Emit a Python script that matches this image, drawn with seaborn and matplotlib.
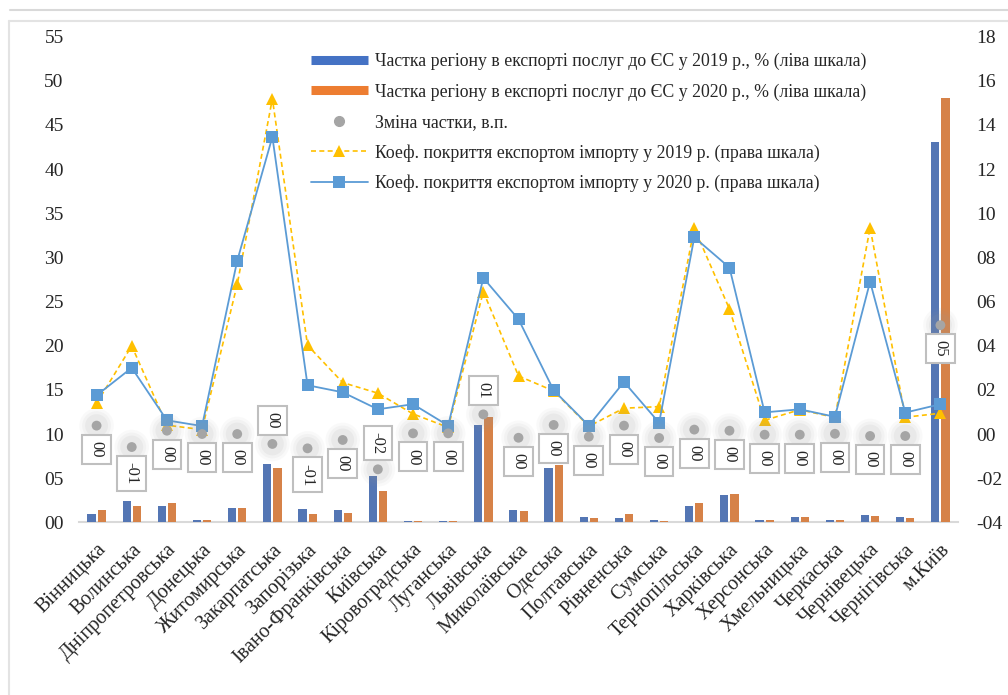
import numpy as np
import pandas as pd
import seaborn as sns
import matplotlib.pyplot as plt
from matplotlib.lines import Line2D

regions = ["Вінницька", "Волинська", "Дніпропетровська", "Донецька", "Житомирська",
           "Закарпатська", "Запорізька", "Івано-Франківська", "Київська", "Кіровоградська",
           "Луганська", "Львівська", "Миколаївська", "Одеська", "Полтавська",
           "Рівненська", "Сумська", "Тернопільська", "Харківська", "Херсонська",
           "Хмельницька", "Черкаська", "Чернівецька", "Чернігівська", "м.Київ"]

share_2019 = [0.9, 2.4, 1.9, 0.3, 1.6, 6.6, 1.5, 1.4, 5.2, 0.2, 0.2, 11.0, 1.4,
              6.2, 0.6, 0.45, 0.3, 1.9, 3.1, 0.3, 0.55, 0.3, 0.8, 0.55, 43.1]
share_2020 = [1.35, 1.85, 2.2, 0.3, 1.6, 6.2, 0.95, 1.05, 3.6, 0.2, 0.2, 11.9, 1.25,
              6.5, 0.5, 0.95, 0.2, 2.2, 3.2, 0.3, 0.55, 0.3, 0.7, 0.45, 48.1]
share_change = [0.38, -0.59, 0.15, 0.0, 0.0, -0.45, -0.65, -0.27, -1.6, 0.03, 0.03, 0.89, -0.17,
                0.41, -0.12, 0.38, -0.18, 0.2, 0.15, -0.03, -0.03, 0.01, -0.09, -0.09, 4.93]
coverage_2019 = [1.39, 3.99, 0.4, 0.2, 6.78, 15.19, 4.02, 2.33, 1.85, 0.91, 0.3, 6.45, 2.63,
                 1.95, 0.35, 1.17, 1.24, 9.33, 5.66, 0.62, 1.1, 0.75, 9.35, 0.76, 0.94]
coverage_2020 = [1.75, 3.0, 0.62, 0.36, 7.85, 13.46, 2.21, 1.89, 1.12, 1.35, 0.38, 7.07, 5.2,
                 1.98, 0.38, 2.36, 0.51, 8.91, 7.54, 0.98, 1.12, 0.78, 6.9, 0.97, 1.35]
label_above = ["Закарпатська", "Київська", "Львівська"]

legend_labels = ["Частка регіону в експорті послуг до ЄС у 2019 р., % (ліва шкала)",
                 "Частка регіону в експорті послуг до ЄС у 2020 р., % (ліва шкала)",
                 "Зміна частки, в.п.",
                 "Коеф. покриття експортом імпорту у 2019 р. (права шкала)",
                 "Коеф. покриття експортом імпорту у 2020 р. (права шкала)"]

c19, c20, cdot, ctri, csq = "#4472C4", "#ED7D31", "#A5A5A5", "#FFC000", "#5B9BD5"

sns.set_style("white")
plt.rcParams['font.family'] = ['Liberation Serif', 'DejaVu Serif']

bars = pd.DataFrame({
    "region": regions * 2,
    "year": ["2019"] * len(regions) + ["2020"] * len(regions),
    "share": share_2019 + share_2020,
})

fig = plt.figure(figsize=[10.08, 6.95], dpi=100)
ax = fig.add_axes([79 / 1008, 1 - 522.3 / 695, 879 / 1008, 485.6 / 695])
sns.barplot(data=bars, x="region", y="share", hue="year", order=regions,
            palette=[c19, c20], width=0.58, gap=0.2, linewidth=0, legend=False, ax=ax)
ax.set_xlim(-0.5, len(regions) - 0.5)
ax.set_ylim(0, 55)
ax.set_yticks(range(0, 56, 5))
ax.set_yticklabels(["{:02d}".format(v) for v in range(0, 56, 5)], fontsize=14)
ax.set_xlabel("")
ax.set_ylabel("")
ax.set_xticks(range(len(regions)))
ax.set_xticklabels(regions, rotation=45, ha="right", rotation_mode="anchor", fontsize=14.5)
ax.tick_params(axis="x", length=0, pad=13)
ax.tick_params(axis="y", length=0, pad=11)
for s in ["top", "left", "right"]:
    ax.spines[s].set_visible(False)
ax.spines["bottom"].set_color("#D9D9D9")
ax.spines["bottom"].set_linewidth(1.5)
ax.spines["bottom"].set_zorder(0.5)

ax2 = ax.twinx()
ax2.set_ylim(-4, 18)
rticks = list(range(-4, 19, 2))
ax2.set_yticks(rticks)
ax2.set_yticklabels([("-" if v < 0 else "") + "{:02d}".format(abs(v)) for v in rticks], fontsize=14)
ax2.tick_params(axis="y", length=0, pad=13)
for s in ["top", "left", "right", "bottom"]:
    ax2.spines[s].set_visible(False)

pos = np.arange(len(regions))
ax2.plot(pos, coverage_2019, color=ctri, ls=(0, (3, 2)), lw=1.2, marker="^", ms=8.5,
         markeredgewidth=0, zorder=3)
ax2.plot(pos, coverage_2020, color=csq, lw=1.3, marker="s", ms=8,
         markeredgewidth=0, zorder=4)

# grey glow round the change dots
for size, alpha in [(620, 0.05), (430, 0.07), (270, 0.1)]:
    ax2.scatter(pos, share_change, s=size, color="#9A9A9A", alpha=alpha, edgecolors="none", zorder=5)
ax2.scatter(pos, share_change, s=50, color=cdot, edgecolors="none", zorder=6)

for i, v in enumerate(share_change):
    r = int(round(v))
    txt = ("-" if r < 0 else "") + "{:02d}".format(abs(r))
    above = regions[i] in label_above
    ax2.annotate(txt, (i, v), xytext=(0, 11 if above else -11), textcoords="offset points",
                 rotation=270, ha="center", va="bottom" if above else "top", fontsize=12,
                 bbox=dict(boxstyle="square,pad=0.38", fc="white", ec="#BFBFBF", lw=1.5),
                 zorder=7)

handles = [Line2D([], [], color=c19, lw=6.5, solid_capstyle="butt"),
           Line2D([], [], color=c20, lw=6.5, solid_capstyle="butt"),
           Line2D([], [], color=cdot, ls="", marker="o", ms=7),
           Line2D([], [], color=ctri, ls=(0, (3, 2)), lw=1.2, marker="^", ms=8.5, markeredgewidth=0),
           Line2D([], [], color=csq, lw=1.3, marker="s", ms=8, markeredgewidth=0)]
fig.legend(handles, legend_labels, loc="upper left", bbox_to_anchor=(311 / 1008, 1 - 53 / 695),
           frameon=False, fontsize=12.8, handlelength=3.2, handletextpad=0.4,
           labelspacing=0.74, borderpad=0, borderaxespad=0)

# frame lines like the source document
fig.add_artist(Line2D([10 / 1008, 1], [1 - 10 / 695] * 2, color="#D9D9D9", lw=1.5))
fig.add_artist(Line2D([9 / 1008, 1], [1 - 21 / 695] * 2, color="#E3E3E3", lw=1.5))
fig.add_artist(Line2D([9 / 1008] * 2, [0, 1 - 21 / 695], color="#E3E3E3", lw=1.5))

plt.savefig("out.png", dpi=100)
